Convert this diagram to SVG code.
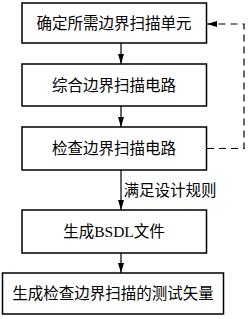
<svg xmlns="http://www.w3.org/2000/svg" width="248" height="319" viewBox="0 0 248 319">
<style>
.box{fill:#fff;stroke:#000;stroke-width:1.5}
.t{font-family:"Liberation Serif","Noto Sans CJK SC",serif;font-size:15.5px;fill:#000;text-anchor:middle;dominant-baseline:central}
.c{fill:none;stroke:#000;stroke-width:1.2}
.d{stroke-dasharray:7,5}
</style>
<defs>
<marker id="ah" markerWidth="10" markerHeight="6" refX="10" refY="3" orient="auto" markerUnits="userSpaceOnUse">
<path d="M0,0 L10,3 L0,6 Z" fill="#000"/>
</marker>
</defs>
<rect width="248" height="319" fill="#fff"/>
<g id="connectors">
<line class="c" x1="121" y1="43" x2="121" y2="64" marker-end="url(#ah)"/>
<line class="c" x1="121" y1="106" x2="121" y2="127" marker-end="url(#ah)"/>
<line class="c" x1="121" y1="170" x2="121" y2="210" marker-end="url(#ah)"/>
<line class="c" x1="121" y1="253" x2="121" y2="273" marker-end="url(#ah)"/>
<polyline class="c d" points="207,148.5 244,148.5 244,24 207,24" marker-end="url(#ah)"/>
<text class="t" x="170" y="190">满足设计规则</text>
</g>
<g id="n1"><rect class="box" x="22" y="3" width="184.5" height="40"/><text class="t" x="114" y="23">确定所需边界扫描单元</text></g>
<g id="n2"><rect class="box" x="22" y="64" width="184.5" height="42"/><text class="t" x="114" y="85">综合边界扫描电路</text></g>
<g id="n3"><rect class="box" x="22" y="127" width="184.5" height="43"/><text class="t" x="114" y="148.5">检查边界扫描电路</text></g>
<g id="n4"><rect class="box" x="22" y="210" width="184.5" height="43"/><text class="t" x="114" y="231.5">生成BSDL文件</text></g>
<g id="n5"><rect class="box" x="2.5" y="273" width="221" height="41"/><text class="t" x="113" y="293.5">生成检查边界扫描的测试矢量</text></g>
</svg>
